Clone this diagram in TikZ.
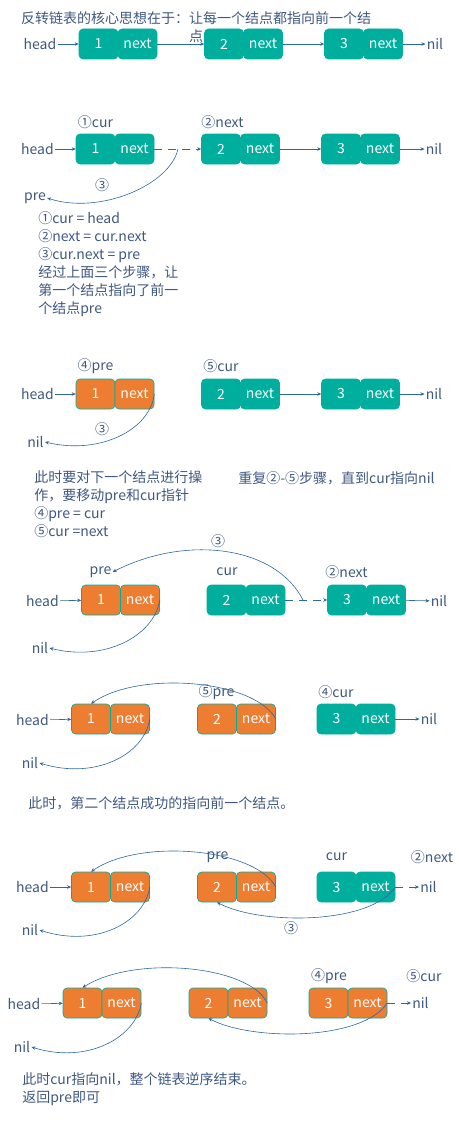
\documentclass[tikz,border=0pt]{standalone}
\usepackage{fontspec}
\setmainfont{Noto Sans CJK SC}
\usepackage{tikz}
\usetikzlibrary{arrows.meta,positioning}
\definecolor{cellteal}{RGB}{0,174,157}
\definecolor{cellorange}{RGB}{237,125,49}
\definecolor{linkblue}{RGB}{46,104,160}
\definecolor{txtblue}{RGB}{62,88,128}

\begin{document}
\begin{tikzpicture}
[x=1pt,y=-1pt,
-{Stealth[length=4pt,width=3.5pt]}, linkblue, line width=0.6pt,
every node/.style={font=\fontsize{14}{18}\selectfont, text=txtblue, inner sep=1pt},
tcell/.style={draw=cellteal, fill=cellteal, rounded corners=4pt,
minimum width=39pt, minimum height=30pt, inner sep=0pt, text=white},
ocell/.style={tcell, fill=cellorange},
dashlink/.style={dash pattern=on 8pt off 6pt}]
\useasboundingbox (0,0) rectangle (458,1124);

% the idea
\node (t1) at (196,27) [align=center] {反转链表的核心思想在于：让每一个结点都指向前一个结\\点};
\node (h1) at (40,44) {head};
\node (v11) at (98.5,44) [tcell] {1};
\node (n11) at (137.5,44) [tcell] {next};
\node (v12) at (224,44) [tcell] {2};
\node (n12) at (263,44) [tcell] {next};
\node (v13) at (344,44) [tcell] {3};
\node (n13) at (383,44) [tcell] {next};
\node (nil1) at (435,44) {nil};
\draw (h1) -- (v11);
\draw (n11) -- (v12);
\draw (n12) -- (v13);
\draw (n13) -- (nil1);

% steps 1-3
\node (l21) at (95.5,122) {①cur};
\node (l22) at (222.5,122) {②next};
\node (h2) at (37.5,149) {head};
\node (v21) at (95.5,149) [tcell] {1};
\node (n21) at (134.5,149) [tcell] {next};
\node (v22) at (221,149) [tcell] {2};
\node (n22) at (260,149) [tcell] {next};
\node (v23) at (341,149) [tcell] {3};
\node (n23) at (380,149) [tcell] {next};
\node (nil2) at (434,149) {nil};
\node (pre2) at (35,198) {pre};
\node (s2) at (102,185) {③};
\coordinate (c2) at (178,149);
\draw (h2) -- (v21);
\draw[dashlink] (n21) -- (v22);
\draw (n22) -- (v23);
\draw (n23) -- (nil2);
\draw (c2) .. controls (170,185) and (100,215) .. (pre2.east);
\node (txt2) at (37,210) [anchor=north west, align=left] {①cur = head\\②next = cur.next\\③cur.next = pre\\经过上面三个步骤，让\\第一个结点指向了前一\\个结点pre};

% steps 4-5
\node (l31) at (95.5,366) {④pre};
\node (l32) at (221,366) {⑤cur};
\node (h3) at (37.5,394) {head};
\node (v31) at (95.5,394) [ocell] {1};
\node (n31) at (134.5,394) [ocell] {next};
\node (v32) at (221,394) [tcell] {2};
\node (n32) at (260,394) [tcell] {next};
\node (v33) at (341,394) [tcell] {3};
\node (n33) at (380,394) [tcell] {next};
\node (nil3) at (434,394) {nil};
\node (nil3a) at (35.5,442) {nil};
\node (s3) at (102,429) {③};
\draw (h3) -- (v31);
\draw (n32) -- (v33);
\draw (n33) -- (nil3);
\draw (n31.east) .. controls (150,430) and (100,455) .. (nil3a.east);
\node (txt3) at (33,469) [anchor=north west, align=left] {此时要对下一个结点进行操\\作，要移动pre和cur指针\\④pre = cur\\⑤cur =next};
\node (txt3b) at (237,478) [anchor=west] {重复②-⑤步骤，直到cur指向nil};

% second node, step 3
\node (s4) at (218,541) {③};
\node (l41) at (100.5,572) {pre};
\node (l42) at (227,572) {cur};
\node (l43) at (346.5,572) {②next};
\node (h4) at (42.5,601) {head};
\node (v41) at (101,600) [ocell] {1};
\node (n41) at (140,600) [ocell] {next};
\node (v42) at (226.5,600) [tcell] {2};
\node (n42) at (265.5,600) [tcell] {next};
\node (v43) at (347,600) [tcell] {3};
\node (n43) at (386,600) [tcell] {next};
\node (nil4) at (439,601) {nil};
\node (nil4a) at (40,648) {nil};
\coordinate (c4) at (303,600);
\draw (h4) -- (v41);
\draw[dashlink] (n42) -- (v43);
\draw (n43) -- (nil4);
\draw (n41.east) .. controls (154,636) and (105,662) .. (nil4a.east);
\draw (c4) .. controls (275,545) and (185,535) .. (l41.east);

% second node, steps 4-5
\node (l51) at (216.5,692) {⑤pre};
\node (l52) at (336,692) {④cur};
\node (h5) at (32.5,720) {head};
\node (v51) at (91,719) [ocell] {1};
\node (n51) at (130,719) [ocell] {next};
\node (v52) at (217,719) [ocell] {2};
\node (n52) at (256,719) [ocell] {next};
\node (v53) at (336.5,719) [tcell] {3};
\node (n53) at (375.5,719) [tcell] {next};
\node (nil5) at (429,719) {nil};
\node (nil5a) at (30,763) {nil};
\draw (h5) -- (v51);
\draw (n53) -- (nil5);
\draw (n51.east) .. controls (144,755) and (95,780) .. (nil5a.east);
\draw (n52.east) .. controls (255,680) and (140,670) .. (v51.north);
\node (txt5) at (27,803) [anchor=west] {此时，第二个结点成功的指向前一个结点。};

% third node, step 3
\node (l61) at (217.5,857) {pre};
\node (l62) at (336.5,857) {cur};
\node (l63) at (432,857) {②next};
\node (h6) at (32.5,887) {head};
\node (v61) at (91,887) [ocell] {1};
\node (n61) at (130,887) [ocell] {next};
\node (v62) at (217,887) [ocell] {2};
\node (n62) at (256,887) [ocell] {next};
\node (v63) at (336.5,887) [tcell] {3};
\node (n63) at (375.5,887) [tcell] {next};
\node (nil6) at (428.5,887) {nil};
\node (nil6a) at (30,930) {nil};
\node (s6) at (291,928) {③};
\draw (h6) -- (v61);
\draw[dashlink] (n63) -- (nil6);
\draw (n61.east) .. controls (144,923) and (95,948) .. (nil6a.east);
\draw (n62.east) .. controls (255,848) and (140,838) .. (v61.north);
\draw (n63.east) .. controls (370,925) and (260,925) .. (v62.south);

% third node, steps 4-5
\node (l71) at (329,976) {④pre};
\node (l72) at (424,976) {⑤cur};
\node (h7) at (24,1004) {head};
\node (v71) at (82.5,1003) [ocell] {1};
\node (n71) at (121.5,1003) [ocell] {next};
\node (v72) at (208.5,1003) [ocell] {2};
\node (n72) at (247.5,1003) [ocell] {next};
\node (v73) at (328.5,1003) [ocell] {3};
\node (n73) at (367.5,1003) [ocell] {next};
\node (nil7) at (420.5,1003) {nil};
\node (nil7a) at (22,1047) {nil};
\draw (h7) -- (v71);
\draw[dashlink] (n73) -- (nil7);
\draw (n71.east) .. controls (135,1039) and (86,1064) .. (nil7a.east);
\draw (n72.east) .. controls (249,965) and (134,955) .. (v71.north);
\draw (n73.east) .. controls (362,1041) and (252,1041) .. (v72.south);
\node (txt7) at (21,1071) [anchor=north west, align=left] {此时cur指向nil，整个链表逆序结束。\\返回pre即可};

\end{tikzpicture}
\end{document}
